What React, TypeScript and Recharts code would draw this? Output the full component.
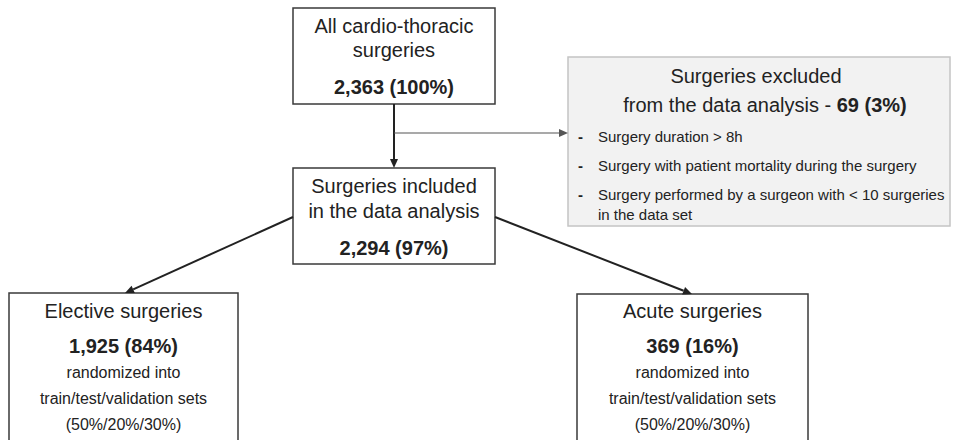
import React from 'react';
import { ComposedChart, XAxis, YAxis, ReferenceArea, ReferenceLine } from 'recharts';

// flow counts
const nodeTitles = [
  ['All cardio-thoracic', 'surgeries'],
  ['Surgeries included', 'in the data analysis'],
  ['Elective surgeries'],
  ['Acute surgeries'],
];
const nodeCounts = ['2,363', '2,294', '1,925', '369'];
const nodeShares = ['100%', '97%', '84%', '16%'];
const splitNote = ['randomized into', 'train/test/validation sets', '(50%/20%/30%)'];

const excludedTitle = ['Surgeries excluded', 'from the data analysis - '];
const excludedCount = '69';
const excludedShare = '3%';
const exclusionReasons = [
  ['Surgery duration > 8h'],
  ['Surgery with patient mortality during the surgery'],
  ['Surgery performed by a surgeon with < 10 surgeries', 'in the data set'],
];

// layout (page pixels == data units)
const W = 956;
const H = 440;
const FONT = '"Liberation Sans", Arial, Helvetica, sans-serif';
const TEXT = '#222';

const boxes = [
  { x1: 293, x2: 495, y1: 8, y2: 104, title: [25, 49], count: 86, note: null },
  { x1: 293, x2: 495, y1: 168, y2: 264, title: [25, 50], count: 87, note: null },
  { x1: 9, x2: 238, y1: 293, y2: 460, title: [25], count: 60, note: [85, 111, 137] },
  { x1: 577, x2: 808, y1: 294, y2: 460, title: [24], count: 59, note: [84, 110, 136] },
];
const excludedBox = { x1: 568, x2: 950, y1: 57, y2: 226 };
const excludedTitleY = [26, 55];
const excludedTitleDx = [-3, 6];
const reasonY = [[85], [114], [143, 163]];

const edges = [
  { x1: 394, y1: 104, x2: 394, y2: 168, w: 2, c: '#222' },
  { x1: 394, y1: 133, x2: 568, y2: 133, w: 1.2, c: '#555' },
  { x1: 293, y1: 217, x2: 125, y2: 293, w: 2, c: '#222' },
  { x1: 495, y1: 217, x2: 692, y2: 294, w: 2, c: '#222' },
];

const Arrow = (props: any, w: number, c: string) => {
  const { x1, y1, x2, y2 } = props;
  const ang = Math.atan2(y2 - y1, x2 - x1);
  const len = 9;
  const half = 4;
  const bx = x2 - len * Math.cos(ang);
  const by = y2 - len * Math.sin(ang);
  const px = -Math.sin(ang) * half;
  const py = Math.cos(ang) * half;
  return (
    <g>
      <line x1={x1} y1={y1} x2={bx} y2={by} stroke={c} strokeWidth={w} />
      <polygon points={`${x2},${y2} ${bx + px},${by + py} ${bx - px},${by - py}`} fill={c} />
    </g>
  );
};

const FlowBox = (props: any, i: number) => {
  const { x, y, width, height } = props;
  const b = boxes[i];
  const cx = x + width / 2;
  return (
    <g>
      <rect x={x} y={y} width={width} height={height} fill="#fff" stroke="#3a3a3a" strokeWidth={1.5} />
      {nodeTitles[i].map((t, k) => (
        <text key={k} x={cx} y={y + b.title[k]} textAnchor="middle" fontSize={20} fontFamily={FONT} fill={TEXT}>
          {t}
        </text>
      ))}
      <text x={cx} y={y + b.count} textAnchor="middle" fontSize={20} fontWeight="bold" fontFamily={FONT} fill={TEXT}>
        {`${nodeCounts[i]} (${nodeShares[i]})`}
      </text>
      {b.note &&
        splitNote.map((t, k) => (
          <text key={k} x={cx} y={y + b.note![k]} textAnchor="middle" fontSize={16} fontFamily={FONT} fill={TEXT}>
            {t}
          </text>
        ))}
    </g>
  );
};

const ExcludedBox = (props: any) => {
  const { x, y, width, height } = props;
  const cx = x + width / 2;
  return (
    <g>
      <rect x={x} y={y} width={width} height={height} fill="#f2f2f2" stroke="#c4c4c4" strokeWidth={1.5} />
      <text x={cx + excludedTitleDx[0]} y={y + excludedTitleY[0]} textAnchor="middle" fontSize={20} fontFamily={FONT} fill={TEXT}>
        {excludedTitle[0]}
      </text>
      <text x={cx + excludedTitleDx[1]} y={y + excludedTitleY[1]} textAnchor="middle" fontSize={20} fontFamily={FONT} fill={TEXT}>
        {excludedTitle[1]}
        <tspan fontWeight="bold">{`${excludedCount} (${excludedShare})`}</tspan>
      </text>
      {exclusionReasons.map((lines, k) => (
        <g key={k}>
          <text x={x + 10} y={y + reasonY[k][0]} fontSize={15} fontWeight="bold" fontFamily={FONT} fill={TEXT}>
            -
          </text>
          {lines.map((t, j) => (
            <text key={j} x={x + 30} y={y + reasonY[k][j]} fontSize={15} fontFamily={FONT} fill={TEXT}>
              {t}
            </text>
          ))}
        </g>
      ))}
    </g>
  );
};

export default function App() {
  return (
    <div style={{ position: 'absolute', left: 0, top: 0, width: W, height: H, background: '#fff' }}>
      <ComposedChart width={W} height={H} data={[]} margin={{ top: 0, right: 0, bottom: 0, left: 0 }}>
        <XAxis type="number" dataKey="x" domain={[0, W]} hide allowDataOverflow />
        <YAxis type="number" dataKey="y" domain={[0, H]} reversed hide allowDataOverflow />
        {edges.map((e, i) => (
          <ReferenceLine
            key={`e${i}`}
            segment={[{ x: e.x1, y: e.y1 }, { x: e.x2, y: e.y2 }]}
            ifOverflow="visible"
            shape={(p: any) => Arrow(p, e.w, e.c)}
          />
        ))}
        {boxes.map((b, i) => (
          <ReferenceArea
            key={`b${i}`}
            x1={b.x1}
            x2={b.x2}
            y1={b.y1}
            y2={b.y2}
            ifOverflow="visible"
            shape={(p: any) => FlowBox(p, i)}
          />
        ))}
        <ReferenceArea
          x1={excludedBox.x1}
          x2={excludedBox.x2}
          y1={excludedBox.y1}
          y2={excludedBox.y2}
          ifOverflow="visible"
          shape={ExcludedBox}
        />
      </ComposedChart>
    </div>
  );
}
